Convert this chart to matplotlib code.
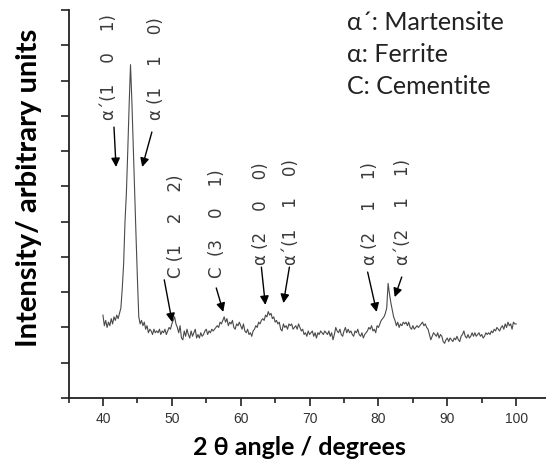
import numpy as np
import matplotlib
matplotlib.use("Agg")
import matplotlib.pyplot as plt
from matplotlib.ticker import MultipleLocator, NullFormatter

# ---- data ----
ANGLE_START, ANGLE_STEP = 40.0, 0.2
intensity = [
    2.35, 2.05, 2.20, 2.00, 2.15, 2.05, 2.25, 2.10, 2.30, 2.20,   # 40
    2.35, 2.25, 2.40, 2.55, 3.10, 3.80, 5.00, 5.80, 7.00, 8.30,   # 42
    9.45, 8.40, 7.10, 5.80, 4.60, 3.40, 2.30, 2.10, 2.20, 2.05,   # 44
    2.15, 1.95, 2.05, 1.85, 1.95, 1.90, 1.80, 1.95, 1.85, 1.90,   # 46
    1.85, 1.95, 1.80, 1.90, 1.85, 1.95, 1.80, 1.90, 2.00, 1.95,   # 48
    2.10, 2.20, 2.30, 2.10, 2.00, 1.85, 2.05, 1.70, 1.65, 1.90,   # 50
    1.75, 1.95, 1.80, 1.70, 1.90, 1.75, 1.85, 1.95, 1.70, 1.80,   # 52
    1.70, 1.85, 1.75, 1.80, 1.90, 1.95, 1.80, 1.90, 1.85, 1.95,   # 54
    1.90, 1.95, 2.00, 2.05, 2.00, 2.15, 2.10, 2.20, 2.30, 2.15,   # 56
    2.25, 2.05, 2.15, 2.10, 2.20, 2.00, 1.95, 2.10, 2.05, 2.15,   # 58
    2.05, 1.95, 2.10, 1.90, 1.85, 1.95, 1.80, 1.85, 1.75, 1.90,   # 60
    1.95, 2.05, 2.00, 2.15, 2.10, 2.20, 2.25, 2.20, 2.35, 2.30,   # 62
    2.45, 2.35, 2.40, 2.25, 2.30, 2.15, 2.20, 2.10, 2.15, 1.95,   # 64
    1.90, 2.10, 2.00, 2.05, 1.95, 2.10, 2.05, 2.10, 1.95, 2.00,   # 66
    2.05, 1.95, 2.10, 2.00, 1.90, 1.95, 1.80, 1.85, 1.75, 1.90,   # 68
    1.80, 1.85, 1.90, 1.75, 1.85, 1.70, 1.85, 1.80, 1.90, 1.85,   # 70
    1.80, 1.90, 1.85, 1.80, 1.90, 1.75, 1.85, 1.65, 1.80, 2.00,   # 72
    1.90, 1.85, 1.95, 1.80, 1.75, 1.90, 2.00, 1.85, 1.95, 1.85,   # 74
    1.90, 1.80, 1.75, 1.90, 1.85, 1.95, 1.80, 1.75, 1.85, 1.70,   # 76
    1.80, 1.85, 1.90, 2.00, 1.95, 2.05, 1.90, 1.95, 1.85, 2.05,   # 78
    2.00, 2.10, 2.20, 2.25, 2.30, 2.40, 2.55, 3.25, 2.95, 2.70,   # 80
    2.50, 2.30, 2.20, 2.05, 2.15, 2.00, 2.10, 2.05, 2.15, 2.10,   # 82
    2.15, 2.05, 2.15, 2.00, 1.95, 2.05, 1.95, 2.00, 2.05, 2.00,   # 84
    2.05, 2.10, 2.15, 2.05, 2.10, 2.00, 1.95, 1.80, 1.65, 1.75,   # 86
    1.85, 1.80, 1.75, 1.85, 1.70, 1.80, 1.75, 1.60, 1.55, 1.65,   # 88
    1.70, 1.60, 1.70, 1.65, 1.60, 1.70, 1.65, 1.75, 1.65, 1.60,   # 90
    1.75, 1.80, 1.90, 1.75, 1.70, 1.80, 1.70, 1.75, 1.85, 1.75,   # 92
    1.85, 1.75, 1.80, 1.85, 1.75, 1.80, 1.70, 1.75, 1.85, 1.80,   # 94
    1.85, 1.80, 1.90, 1.85, 1.95, 1.90, 2.00, 1.95, 1.90, 2.00,   # 96
    2.05, 1.95, 2.10, 2.00, 2.15, 2.05, 2.10, 1.95, 2.15, 2.10,   # 98
    2.10,                                                         # 100
]
angle = ANGLE_START + ANGLE_STEP * np.arange(len(intensity))

# peak labels: text, text x, text bottom, arrow tail (x, y), arrow head (x, y)
GAP = " " * 4
peak_labels = ["α´(1" + GAP + "0" + GAP + "1)", "α (1" + GAP + "1" + GAP + "0)",
               "C (1" + GAP + "2" + GAP + "2)", "C  (3" + GAP + "0" + GAP + "1)",
               "α (2" + GAP + "0" + GAP + "0)", "α´(1" + GAP + "1" + GAP + "0)",
               "α (2" + GAP + "1" + GAP + "1)", "α´(2" + GAP + "1" + GAP + "1)"]
label_x     = [40.9, 47.7, 50.6, 56.6, 63.0, 67.3, 78.7, 83.5]
label_y     = [7.88, 7.88, 3.40, 3.40, 3.77, 3.77, 3.77, 3.77]
arrow_from  = [(41.6, 7.68), (47.1, 7.54), (48.9, 3.35), (56.45, 3.12),
               (63.0, 3.71), (67.07, 3.71), (78.43, 3.57), (83.38, 3.43)]
arrow_to    = [(41.9, 6.55), (45.7, 6.55), (50.05, 2.15), (57.47, 2.44),
               (63.58, 2.64), (66.2, 2.69), (79.74, 2.44), (82.36, 2.86)]

phase_key = ["α´: Martensite", "α: Ferrite", "C: Cementite"]

TEXT = "#222222"
LINE = "#4a4a4a"

fig = plt.figure(figsize=(5.46, 4.59), dpi=100)
fig.patch.set_facecolor("white")
ax = fig.add_axes([0.1255, 0.1329, 0.883, 0.8453])

ax.plot(angle, intensity, color=LINE, lw=0.8)

for txt, tx, ty, a0, a1 in zip(peak_labels, label_x, label_y, arrow_from, arrow_to):
    ax.text(tx, ty, txt, rotation=90, ha="center", va="bottom",
            fontsize=12, color="#3a3a3a", family="DejaVu Sans")
    ax.annotate("", xy=a1, xytext=a0,
                arrowprops=dict(arrowstyle="-|>", color="black", lw=1.0,
                                mutation_scale=13, shrinkA=0, shrinkB=0))

ax.set_xlim(35, 105)
ax.set_ylim(0, 11)
ax.xaxis.set_major_locator(MultipleLocator(10))
ax.xaxis.set_minor_locator(MultipleLocator(5))
ax.yaxis.set_major_locator(MultipleLocator(1))
ax.yaxis.set_major_formatter(NullFormatter())
ax.tick_params(axis="x", which="major", length=6, width=1.2, colors="#222222",
               labelcolor="#333333", labelsize=10, pad=4)
ax.tick_params(axis="x", which="minor", length=3.5, width=1.2, colors="#222222")
ax.tick_params(axis="y", length=6, width=1.2, colors="#222222")
for lab in ax.get_xticklabels():
    lab.set_family("Liberation Sans")

for side in ("top", "right"):
    ax.spines[side].set_visible(False)
for side in ("left", "bottom"):
    ax.spines[side].set_linewidth(1.3)
    ax.spines[side].set_color("#222222")

for i, line in enumerate(phase_key):
    fig.text(0.635, 1 - (22 + 32 * i) / 459, line, ha="left", va="center",
             fontsize=18, color=TEXT, family="Lato")

fig.text(0.549, 0.026, "2 θ angle / degrees", ha="center", va="center",
         fontsize=18, fontweight="bold", color="black", family="Lato")
fig.text(0.053, 0.59, "Intensity/ arbitrary units", ha="center", va="center",
         rotation=90, fontsize=21, fontweight="bold", color="black", family="Lato")

fig.savefig("out.png", dpi=100, facecolor="white")
